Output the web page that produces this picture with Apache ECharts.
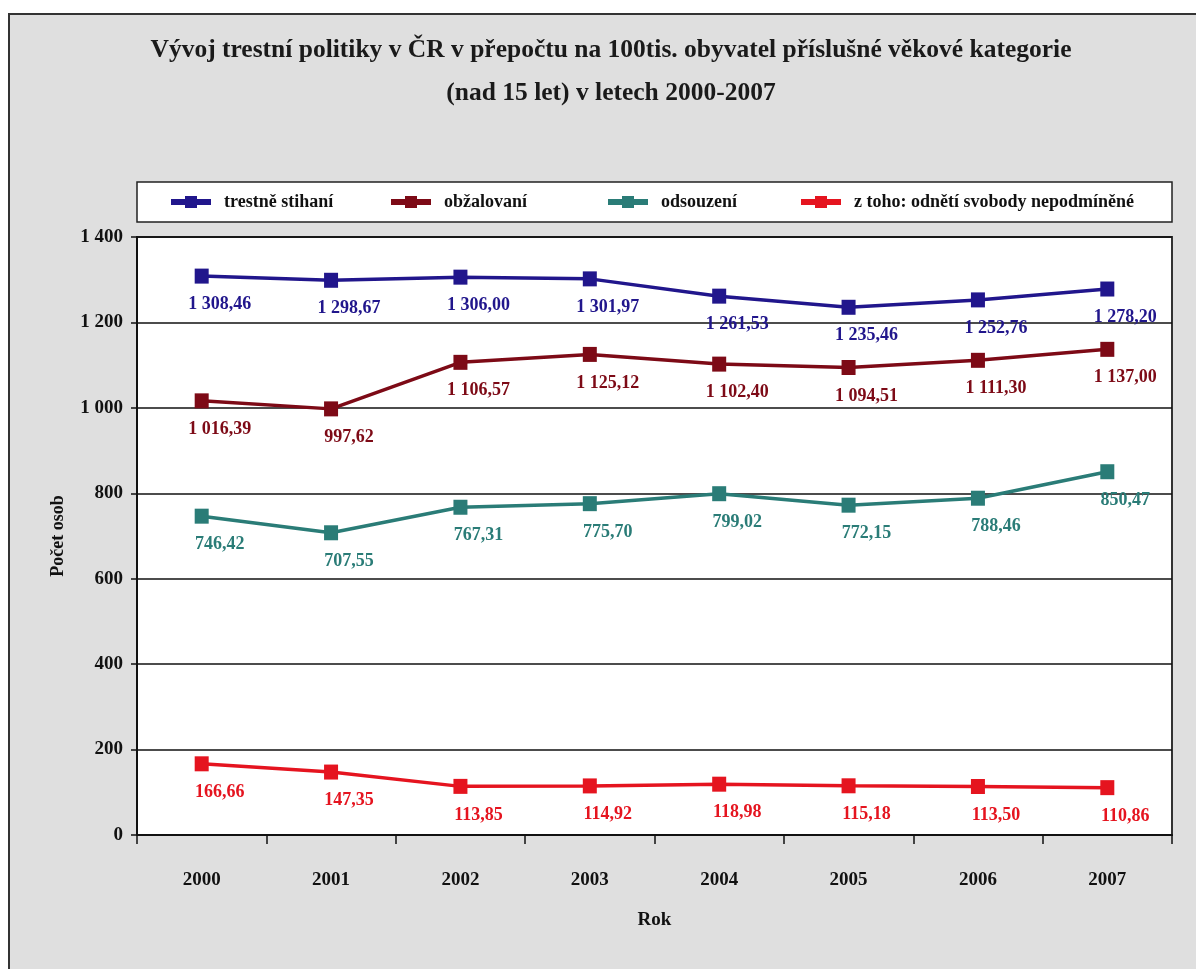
<!DOCTYPE html>
<html>
<head>
<meta charset="utf-8">
<script src="https://cdn.jsdelivr.net/npm/echarts@6/dist/echarts.min.js"></script>
<style>
html,body{margin:0;padding:0;background:#fff;}
#chart{width:1196px;height:969px;}
</style>
</head>
<body>
<div id="chart"></div>
<script>
const years = ['2000','2001','2002','2003','2004','2005','2006','2007'];
const seriesNames = ['trestně stihaní','obžalovaní','odsouzení','z toho: odnětí svobody nepodmíněné'];
const trestneStihani = [1308.46, 1298.67, 1306.00, 1301.97, 1261.53, 1235.46, 1252.76, 1278.20];
const obzalovani = [1016.39, 997.62, 1106.57, 1125.12, 1102.40, 1094.51, 1111.30, 1137.00];
const odsouzeni = [746.42, 707.55, 767.31, 775.70, 799.02, 772.15, 788.46, 850.47];
const nepodmineneTresty = [166.66, 147.35, 113.85, 114.92, 118.98, 115.18, 113.50, 110.86];
const yTicks = [0, 200, 400, 600, 800, 1000, 1200, 1400];

const colors = ['#21168c', '#7d0a16', '#2a7c77', '#e5141f'];
const FONT = '"Liberation Serif", "Times New Roman", serif';

function thousands(s){ return s.replace(/\B(?=(\d{3})+(?!\d))/g, ' '); }
function fmtNum(v){
  const parts = v.toFixed(2).split('.');
  return thousands(parts[0]) + ',' + parts[1];
}

const chart = echarts.init(document.getElementById('chart'), null, {renderer:'canvas'});

const allData = [trestneStihani, obzalovani, odsouzeni, nepodmineneTresty];
const legendLefts = [168, 388, 605, 798];

const option = {
  backgroundColor: '#ffffff',
  animation: false,
  graphic: [
    {type:'rect', z:-10, shape:{x:9, y:14, width:1210, height:1000},
     style:{fill:'#dfdfdf', stroke:'#333', lineWidth:2}},
    {type:'rect', z:-5, shape:{x:137, y:182, width:1035, height:40},
     style:{fill:'#ffffff', stroke:'#222', lineWidth:1.5}}
  ],
  title: {
    text: 'Vývoj trestní politiky v ČR v přepočtu na 100tis. obyvatel příslušné věkové kategorie\n(nad 15 let) v letech 2000-2007',
    left: 606, top: 24, textAlign: 'center',
    textStyle: {fontFamily: FONT, fontWeight: 'bold', fontSize: 25.5, lineHeight: 43, color: '#1a1a1a'}
  },
  legend: seriesNames.map((n, i) => ({
    data: [n], left: legendLefts[i], top: 193, padding: 0,
    itemWidth: 40, itemHeight: 15,
    lineStyle: {width: 6},
    textStyle: {fontFamily: FONT, fontWeight: 'bold', fontSize: 18, color: '#111', padding:[0,0,0,8]}
  })),
  grid: {left: 137, right: 24, top: 237, bottom: 134, show: true,
    backgroundColor: '#ffffff', borderColor: '#333', borderWidth: 2},
  xAxis: {
    type: 'category', data: years, boundaryGap: true,
    name: 'Rok', nameLocation: 'middle', nameGap: 76,
    nameTextStyle: {fontFamily: FONT, fontWeight: 'bold', fontSize: 19, color: '#111'},
    axisLine: {lineStyle: {color: '#111', width: 2}},
    axisTick: {show: true, length: 9, interval: 0, lineStyle: {color: '#111', width: 1.5}},
    axisLabel: {margin: 36, fontFamily: FONT, fontWeight: 'bold', fontSize: 19, color: '#111'}
  },
  yAxis: {
    type: 'value', min: 0, max: 1400, interval: 200,
    name: 'Počet osob', nameLocation: 'middle', nameGap: 70, nameRotate: 90,
    nameTextStyle: {fontFamily: FONT, fontWeight: 'bold', fontSize: 18, color: '#111', padding: [0, 0, 0, 0]},
    axisLine: {show: true, lineStyle: {color: '#111', width: 2}},
    axisTick: {show: true, length: 6, lineStyle: {color: '#111', width: 1.5}},
    axisLabel: {margin: 14, fontFamily: FONT, fontWeight: 'bold', fontSize: 19, color: '#111',
      formatter: v => thousands(String(v))},
    splitLine: {show: true, lineStyle: {color: '#111', width: 1.5}}
  },
  series: seriesNames.map((n, i) => ({
    name: n, type: 'line', data: allData[i],
    symbol: 'rect', symbolSize: [14, 15],
    lineStyle: {color: colors[i], width: 3.5},
    itemStyle: {color: colors[i]},
    label: {show: true, position: 'bottom', distance: 12, offset: [18, 0],
      fontFamily: FONT, fontWeight: 'bold', fontSize: 18, color: colors[i],
      formatter: p => fmtNum(p.value)}
  }))
};
chart.setOption(option);
</script>
</body>
</html>
